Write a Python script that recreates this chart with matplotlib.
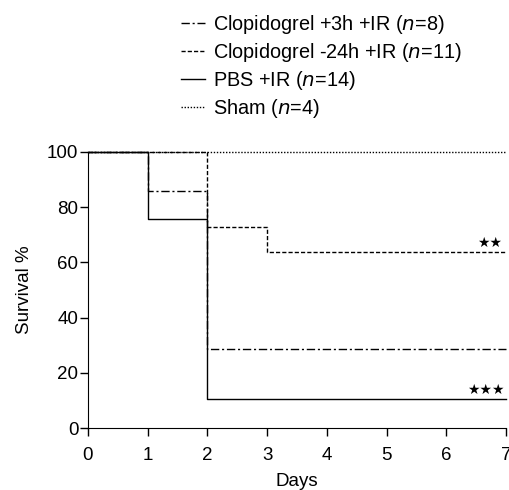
import numpy as np
import matplotlib.pyplot as plt

plt.rcParams['font.family'] = ['Liberation Sans', 'DejaVu Sans']

# survival curves (step changes at the given days)
days = [0, 1, 2, 3, 7]
clop3h = [100, 85.7, 28.6, 28.6, 28.6]
clop24h = [100, 100, 72.7, 63.6, 63.6]
pbs = [100, 75.7, 10.5, 10.5, 10.5]
sham = [100, 100, 100, 100, 100]

labels = ['Clopidogrel +3h +IR ($\\it{n}$=8)',
          'Clopidogrel -24h +IR ($\\it{n}$=11)',
          'PBS +IR ($\\it{n}$=14)',
          'Sham ($\\it{n}$=4)']
styles = [(0, (6, 2, 1.5, 2)), (0, (3, 1.5)), '-', (0, (1, 1.2))]
series = [clop3h, clop24h, pbs, sham]

fig = plt.figure(figsize=(5.1, 4.9), dpi=100)
ax = fig.add_axes([0.1725, 0.1265, 0.8195, 0.5635])

handles = []
for y, ls, lab in zip(series, styles, labels):
    h, = ax.step(days, y, where='post', color='black', lw=1.0,
                 linestyle=ls, label=lab, clip_on=False)
    handles.append(h)

ax.text(6.93, 64.5, '★★', ha='right', va='bottom', fontsize=10,
        family='DejaVu Sans')
ax.text(6.97, 11.4, '★★★', ha='right', va='bottom', fontsize=10,
        family='DejaVu Sans')

ax.set_xlim(0, 7)
ax.set_ylim(0, 100)
ax.set_xticks(range(8))
ax.set_yticks(range(0, 101, 20))
ax.tick_params(direction='out', length=5.5, labelsize=13.5, width=1)
ax.tick_params(axis='x', pad=8.5)
ax.tick_params(axis='y', pad=1.5)
ax.spines['top'].set_visible(False)
ax.spines['right'].set_visible(False)
ax.set_xlabel('Days', fontsize=13.5, labelpad=6)
ax.set_ylabel('Survival %', fontsize=13.5, labelpad=10)

fig.legend(handles=handles, loc='upper left', bbox_to_anchor=(0.330, 1.0),
           frameon=False, fontsize=14.3, handlelength=1.2, handletextpad=0.4,
           labelspacing=0.26, borderaxespad=0.25)

fig.savefig('out.png', dpi=100)
